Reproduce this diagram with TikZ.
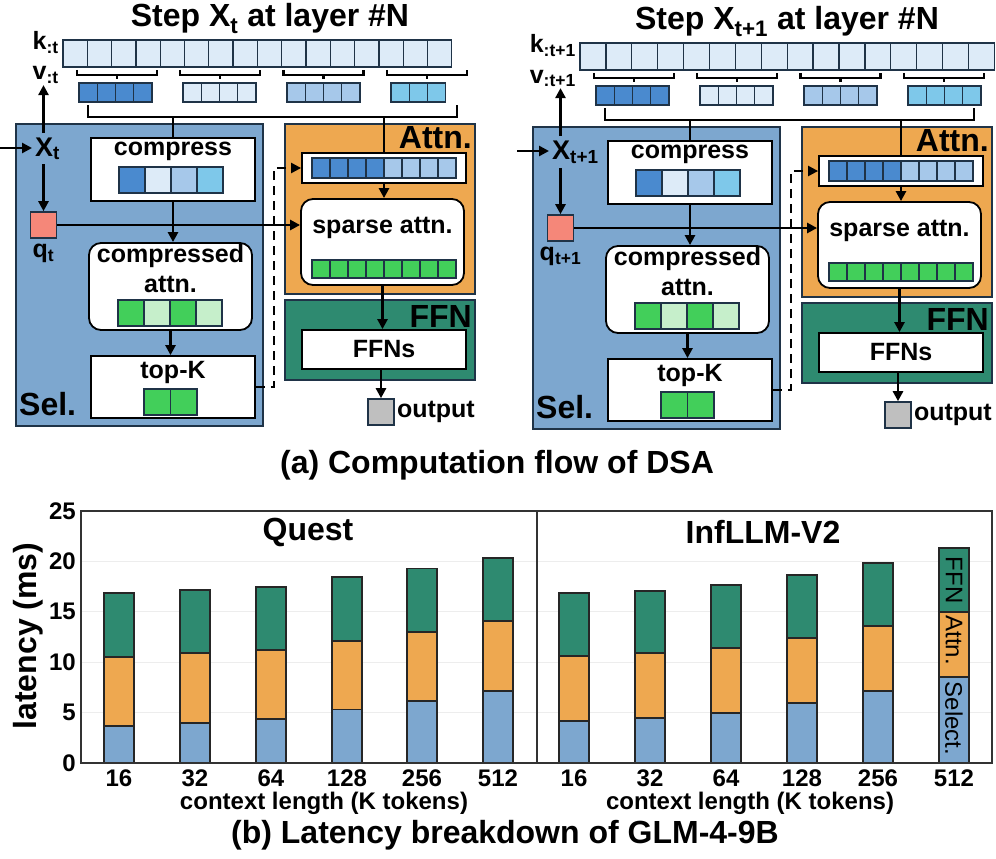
\documentclass[tikz,border=0pt]{standalone}
\usepackage{fontspec}
\setmainfont{Liberation Sans}
\usetikzlibrary{positioning,arrows.meta}

\definecolor{selblue}{HTML}{7DA7CF}
\definecolor{attnorange}{HTML}{EEA850}
\definecolor{ffngreen}{HTML}{2E8A70}
\definecolor{navy}{HTML}{1F3347}
\definecolor{kvpale}{HTML}{DDEBF8}
\definecolor{kvdark}{HTML}{4A8ACF}
\definecolor{kvmid}{HTML}{A6C8EA}
\definecolor{kvsky}{HTML}{7EC8EA}
\definecolor{hitgreen}{HTML}{42CF5A}
\definecolor{palegreen}{HTML}{C6EFCB}
\definecolor{qred}{HTML}{F58779}
\definecolor{outgray}{HTML}{BFBFBF}

% a row of cells: left edge, centre y, cell width, cell height, colours
\newcommand{\cellrow}[5]{%
  \foreach \c [count=\i from 0] in {#5}
    \node[cell, fill=\c, minimum width=#3, minimum height=#4] at ({#1+(\i+0.5)*#3}, #2) {};
}

% one decoding step: subscript, width of a kv cell, colours of the last group
\newcommand{\dsapanel}[3]{%
  \node[big, anchor=base] (title) at (270,27) {Step X\textsubscript{#1} at layer \#N};
  \node[lbl, anchor=base east] (klbl) at (59,50) {k\textsubscript{:#1}};
  \node[lbl, anchor=base east] (vlbl) at (59,80) {v\textsubscript{:#1}};
  \foreach \i in {0,...,15}
    \node[cell, fill=kvpale, minimum width=#2, minimum height=27] (kv-\i) at ({63+(\i+0.5)*#2}, 53.5) {};
  \foreach \i in {0,...,3} {
    \draw[brace] ({77+103.3*\i},70) -- ++(0,5) -- ++(80,0) -- ++(0,-5);
    \draw[brace] ({117+103.3*\i},75) -- ++(0,4);
  }
  \cellrow{79}{92.5}{18.25}{19}{kvdark,kvdark,kvdark,kvdark}
  \cellrow{183}{92.5}{18.25}{19}{kvpale,kvpale,kvpale,kvpale}
  \cellrow{287}{92.5}{18.25}{19}{kvmid,kvmid,kvmid,kvmid}
  \cellrow{391}{92.5}{18.25}{19}{#3}
  % regions
  \node[region, fill=selblue, minimum width=247, minimum height=302] (sel) at (15,123) {};
  \node[region, fill=attnorange, minimum width=190, minimum height=170] (attn) at (284,123) {};
  \node[region, fill=ffngreen, minimum width=190, minimum height=80] (ffn) at (284,299) {};
  \node[big, anchor=base west] (sellbl) at (19,415) {Sel.};
  \node[big, anchor=base east] (attnlbl) at (472,148) {Attn.};
  \node[big, anchor=base east] (ffnlbl) at (472,327) {FFN};
  % selection
  \node[lbl, font=\bfseries\fontsize{27}{30}\selectfont, anchor=base west] (x) at (35,156) {X\textsubscript{#1}};
  \node[cell, fill=qred, line width=1.6pt, minimum size=26] (q) at (43.5,225) {};
  \node[lbl, below=5pt of q] (qlbl) {q\textsubscript{#1}};
  \node[wbox, minimum width=164, minimum height=63] (cmp) at (173,169.5) {};
  \node[lbl, anchor=base] (cmplbl) at (173,155) {compress};
  \cellrow{119}{180}{26}{26}{kvdark,kvpale,kvmid,kvsky}
  \node[rbox, minimum width=163, minimum height=87] (cat) at (170.5,286.5) {};
  \node[lbl, align=center] (catlbl) at (170.5,269) {compressed\\attn.};
  \cellrow{118}{313}{26}{26}{hitgreen,palegreen,hitgreen,palegreen}
  \node[wbox, minimum width=164, minimum height=62] (topk) at (173,387) {};
  \node[lbl, anchor=base] (topklbl) at (173,378) {top-K};
  \cellrow{144}{402}{26.5}{26}{hitgreen,hitgreen}
  % attention and ffn
  \node[wbox, minimum width=164, minimum height=30] (kvsel) at (384,168) {};
  \cellrow{312}{168}{18}{20}{kvdark,kvdark,kvdark,kvdark,kvmid,kvmid,kvmid,kvmid}
  \node[rbox, minimum width=163, minimum height=86] (sp) at (382.5,242) {};
  \node[lbl, anchor=base] (splbl) at (382.5,233) {sparse attn.};
  \cellrow{312}{269}{18}{18}{hitgreen,hitgreen,hitgreen,hitgreen,hitgreen,hitgreen,hitgreen,hitgreen}
  \node[wbox, lbl, minimum width=164, minimum height=39] (ffns) at (384,349.5) {FFNs};
  \node[cell, fill=outgray, line width=1.6pt, minimum size=26] (out) at (381,412) {};
  \node[lbl, right=2pt of out] (outlbl) {output};
  % wiring
  \coordinate (in) at (0,148);
  \coordinate (brl) at (88,117);
  \coordinate (brr) at (457,117);
  \draw[wire] (brl) ++(0,-12) -- (brl) -- (brr) -- ++(0,-12);
  \draw[wire] (brl -| cmp.north) -- (cmp.north);
  \draw[wire] (brl -| kvsel.north) -- (kvsel.north);
  \draw[arr, shorten >=3pt] (in) -- (in -| x.west);
  \draw[arr, shorten <=4pt, shorten >=1pt] (q.north |- x.north) -- (q.north |- vlbl.south);
  \draw[arr, shorten <=4pt] (q.north |- x.south) -- (q.north);
  \draw[arr] (q.east) -- (q.east -| sp.west);
  \draw[arr] (cmp.south) -- (cmp.south |- cat.north);
  \draw[arr] (cat.south) -- (cat.south |- topk.north);
  \draw[arr, line width=2.2pt, dash pattern=on 9pt off 6pt] (topk.east) -- ++(18,0) |- (kvsel.west);
  \draw[arr] (kvsel.south) -- (kvsel.south |- sp.north);
  \draw[arr] (sp.south) -- (sp.south |- ffns.north);
  \draw[arr] (out.north |- ffns.south) -- (out.north);
}

\begin{document}
\begin{tikzpicture}[
  x=1pt, y=-1pt,
  region/.style={draw=navy, line width=1.8pt, anchor=north west, inner sep=0},
  wbox/.style={draw=black, fill=white, line width=1.8pt, inner sep=0},
  rbox/.style={wbox, rounded corners=12pt},
  cell/.style={draw=navy, line width=1.3pt, inner sep=0},
  lbl/.style={font=\bfseries\fontsize{25}{30}\selectfont, inner sep=0},
  big/.style={font=\bfseries\fontsize{32}{36}\selectfont, inner sep=0},
  tick/.style={font=\bfseries\fontsize{24}{28}\selectfont, inner sep=0},
  key/.style={font=\fontsize{24}{28}\selectfont, inner sep=0},
  wire/.style={line width=2.6pt},
  brace/.style={line width=2.3pt},
  arr/.style={wire, -{Triangle[length=10pt,width=10pt]}},
  bar/.style={draw=black!85, line width=1.8pt},
  frame/.style={draw=black!80, line width=1.4pt},
  gridline/.style={draw=black!7, line width=1pt}
]
\useasboundingbox (0,0) rectangle (996,859);

% (a) two decoding steps
\begin{scope}[name prefix=a-]
  \dsapanel{t}{24.3}{kvsky,kvsky,kvsky}
\end{scope}
\begin{scope}[shift={(517,3)}, name prefix=b-]
  \dsapanel{t+1}{25.9}{kvsky,kvsky,kvsky,kvsky}
\end{scope}
\node[big] (capa) at (497,465) {(a) Computation flow of DSA};

% (b) latency breakdown
\begin{scope}[shift={(0,763)}, y=10.08pt]
  \foreach \v in {5,10,15,20}
    \draw[gridline] (81,\v) -- (992,\v);
  \foreach \cx/\s/\a/\f in {119/3.67/10.5/16.85, 195/3.97/10.9/17.2, 271/4.33/11.2/17.5,
      347/5.3/12.1/18.45, 422/6.15/13.0/19.3, 498/7.14/14.1/20.3,
      574/4.17/10.6/16.85, 650/4.46/10.9/17.1, 726/4.96/11.4/17.66,
      802/5.95/12.4/18.65, 878/7.14/13.6/19.84, 954/8.53/14.98/21.33} {
    \draw[bar, fill=selblue] (\cx-15,0) rectangle (\cx+15,\s);
    \draw[bar, fill=attnorange] (\cx-15,\s) rectangle (\cx+15,\a);
    \draw[bar, fill=ffngreen] (\cx-15,\a) rectangle (\cx+15,\f);
  }
  \draw[frame] (81,0) rectangle (992,25);
  \draw[frame] (537,0) -- (537,25);
  \foreach \v in {0,5,...,25}
    \node[tick, anchor=east] (yt-\v) at (76,\v) {\v};
  \foreach \cx/\k in {119/16, 195/32, 271/64, 347/128, 422/256, 498/512,
      574/16, 650/32, 726/64, 802/128, 878/256, 954/512}
    \node[tick, anchor=north] (xt-\cx) at (\cx,-0.6) {\k};
  \node[key, rotate=-90] (kffn) at (954,18.15) {FFN};
  \node[key, rotate=-90] (kattn) at (954,12.2) {Attn.};
  \node[key, rotate=-90] (ksel) at (954,4.4) {Select.};
\end{scope}
\node[big] (quest) at (308,532) {Quest};
\node[big] (infllm) at (763,532) {InfLLM-V2};
\node[big, rotate=90] (ylab) at (28,636) {latency (ms)};
\node[tick] (xlaba) at (324,803) {context length (K tokens)};
\node[tick] (xlabb) at (750,803) {context length (K tokens)};
\node[big] (capb) at (505,835) {(b) Latency breakdown of GLM-4-9B};
\end{tikzpicture}
\end{document}
